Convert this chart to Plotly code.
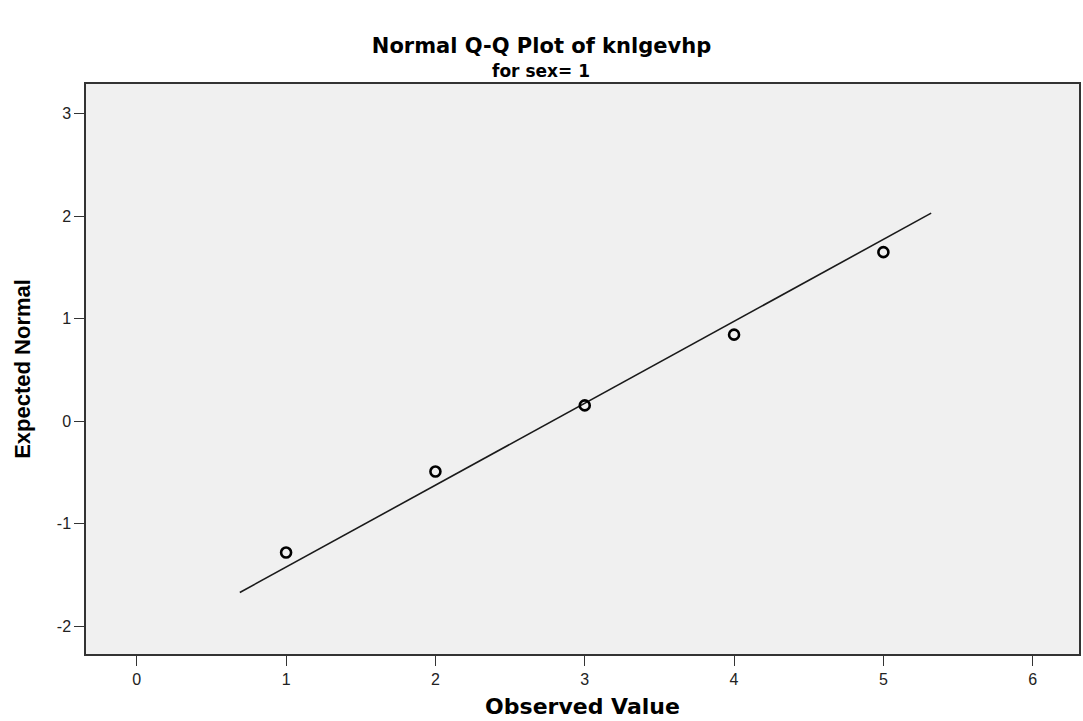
import plotly.graph_objects as go

# Observed values and their expected normal scores
observed = [1, 2, 3, 4, 5]
expected_normal = [-1.28, -0.49, 0.155, 0.845, 1.65]

# Reference line endpoints (observed, expected)
line_x = [0.69, 5.32]
line_y = [-1.67, 2.03]

x_ticks = [0, 1, 2, 3, 4, 5, 6]
y_ticks = [-2, -1, 0, 1, 2, 3]
y_tick_text = ["-2", "-1", "0", "1", "2", "3"]

W, H = 1083, 721
L, R, T, B = 86, 2, 84, 67
fig = go.Figure()

fig.add_trace(go.Scatter(
    x=line_x, y=line_y, mode="lines",
    line=dict(color="#1a1a1a", width=1.6),
    hoverinfo="skip", showlegend=False,
))
fig.add_trace(go.Scatter(
    x=observed, y=expected_normal, mode="markers",
    marker=dict(symbol="circle-open", size=10, color="black",
                line=dict(color="black", width=2.6)),
    showlegend=False,
))

wide_bold = "DejaVu Sans, Liberation Sans, Arial, sans-serif"

fig.update_layout(
    width=W, height=H,
    margin=dict(l=L, r=R, t=T, b=B),
    paper_bgcolor="white",
    plot_bgcolor="#f0f0f0",
    font=dict(family="Liberation Sans, Arial, sans-serif", color="#222"),
    title=dict(
        text="<b>Normal Q-Q Plot of knlgevhp</b>",
        x=0.5, xanchor="center",
        y=1 - 46 / H, yanchor="middle",
        font=dict(family=wide_bold, size=21, color="black"),
    ),
    annotations=[
        dict(text="<b>for sex= 1</b>", xref="paper", yref="paper",
             x=(W / 2 - L) / (W - L - R), y=1 + (T - 71) / (H - T - B),
             xanchor="center", yanchor="middle", showarrow=False,
             font=dict(family=wide_bold, size=17, color="black")),
    ],
    xaxis=dict(
        range=[-0.34, 6.31], tickvals=x_ticks,
        showgrid=False, zeroline=False,
        showline=True, linecolor="#333", linewidth=1.5, mirror=True,
        ticks="outside", ticklen=10, tickcolor="#333", tickwidth=1.2,
        tickfont=dict(family="Liberation Sans Narrow, Arial Narrow, sans-serif",
                      size=16, color="#222"),
        title=dict(text="<b>Observed Value</b>", standoff=12,
                   font=dict(family=wide_bold, size=22, color="black")),
    ),
    yaxis=dict(
        range=[-2.27, 3.29], tickvals=y_ticks, ticktext=y_tick_text,
        showgrid=False, zeroline=False,
        showline=True, linecolor="#333", linewidth=1.5, mirror=True,
        ticks="outside", ticklen=10, tickcolor="#333", tickwidth=1.2,
        tickfont=dict(size=16, color="#222"),
        title=dict(text="<b>Expected Normal</b>", standoff=20,
                   font=dict(size=22, color="black")),
    ),
)

fig.write_html("out.html")
